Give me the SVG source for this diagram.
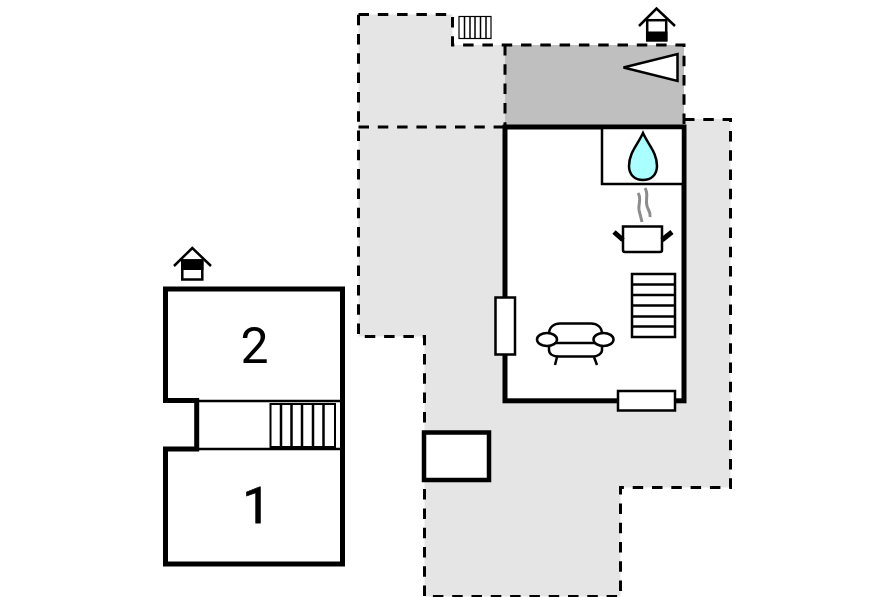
<svg xmlns="http://www.w3.org/2000/svg" width="896" height="597" viewBox="0 0 896 597">
<style>
.d{fill:none;stroke:#000;stroke-width:3;stroke-dasharray:10.500 8.800}
.w{fill:#fff;stroke:#000;stroke-width:5}
.t{fill:#fff;stroke:#000;stroke-width:2.500}
.l{fill:none;stroke:#000;stroke-width:1.500}
.m{fill:none;stroke:#000;stroke-width:2.500}
.n{font-family:Roboto,"Liberation Sans",Arial,sans-serif;font-size:50px;text-anchor:middle;fill:#000}
</style>
<rect width="896" height="597" fill="#fff"/>
<g id="terrace">
<path d="M358.500 14.500H452.500V45H684V119H730.500V487.500H620.500V596.500H424.500V336.500H358.500Z" fill="#e5e5e5"/>
<rect x="505" y="45" width="179" height="82" fill="#bfbfbf"/>
<path class="d" d="M358.500 14.500H452.500V45H684V127M684 119.500H730.500V487.500H620.500V596.500H424.500V336.500H358.500V14.500"/>
<path class="d" d="M358.500 127H505M505 45V127"/>
</g>
<g id="main-room">
<rect class="w" x="505" y="127" width="179" height="273.800"/>
<rect class="t" x="602" y="128" width="81" height="56"/>
<path d="M643 133C637 146 629 153 629 166C629 175 635 180 643 180C651 180 657 175 657 166C657 153 649 146 643 133Z" fill="#aff" stroke="#000" stroke-width="2.500"/>
<path d="M638 193C642 199 638 204 639 210C640 214 641 218 642 222M645 188C649 194 645 199 647 206C648 210 651 212 650 217" fill="none" stroke="#8c8c8c" stroke-width="3"/>
<path class="t" d="M623 226.500H662V250Q662 252 660 252H625Q623 252 623 250Z"/>
<path d="M614 232L623 240M672 232L662 240" stroke="#000" stroke-width="5" fill="none"/>
<rect class="t" x="632" y="274" width="43" height="63"/>
<path class="m" d="M632 284.500H675M632 295H675M632 305.500H675M632 316.500H675M632 326.500H675"/>
<rect class="t" x="495.500" y="297.500" width="19.500" height="57"/>
<rect class="t" x="618" y="391" width="57" height="19.500"/>
<path class="t" d="M549 334C549 327 554 323.500 560 323.500H591C597 323.500 602 327 602 334V350C602 354 597 356.500 593 356.500H559C553 356.500 549 354 549 350Z"/>
<path class="m" d="M556 343H595M557 357L555 365M594 357L597 365"/>
<ellipse class="t" cx="547" cy="339.500" rx="10" ry="6.500"/>
<ellipse class="t" cx="603.500" cy="339.500" rx="10" ry="6.500"/>
<path class="t" d="M623.500 67.500L677.500 54V81Z"/>
</g>
<g id="stairs-top">
<rect x="459" y="16.500" width="32" height="22" fill="#fff" stroke="#000" stroke-width="1.200"/>
<path class="l" d="M464.500 16.500V38.500M470 16.500V38.500M475 16.500V38.500M480.500 16.500V38.500M486 16.500V38.500"/>
</g>
<g id="entry-top">
<path class="m" d="M639 26L656.500 8.500L675 26"/>
<rect x="647.200" y="20.200" width="19" height="20" fill="#fff" stroke="#000" stroke-width="2.500"/>
<rect x="646" y="31.500" width="21.400" height="10" fill="#000"/>
</g>
<g id="small-box">
<rect x="424" y="432.500" width="65" height="47.500" fill="#fff" stroke="#000" stroke-width="4.500"/>
</g>
<g id="left-building">
<path class="w" d="M165.500 289V400.500H196.700V449H165.500V564H342.500V289Z"/>
<path class="m" d="M197 401H342M197 449H342"/>
<rect x="270.500" y="404" width="64.500" height="43" fill="#fff" stroke="#000" stroke-width="2"/>
<path class="m" d="M281 404V447M291.500 404V447M302 404V447M313 404V447M323.500 404V447"/>
<text class="n" x="254.500" y="362.500">2</text>
<text class="n" x="256.500" y="522.500" stroke="#000" stroke-width="0.800">1</text>
</g>
<g id="entry-left">
<path class="m" d="M174 266L192.300 248L211 266"/>
<rect x="182.300" y="260.500" width="20" height="19" fill="#fff" stroke="#000" stroke-width="2.500"/>
<rect x="181" y="259.300" width="22.400" height="10.700" fill="#000"/>
</g>
</svg>
